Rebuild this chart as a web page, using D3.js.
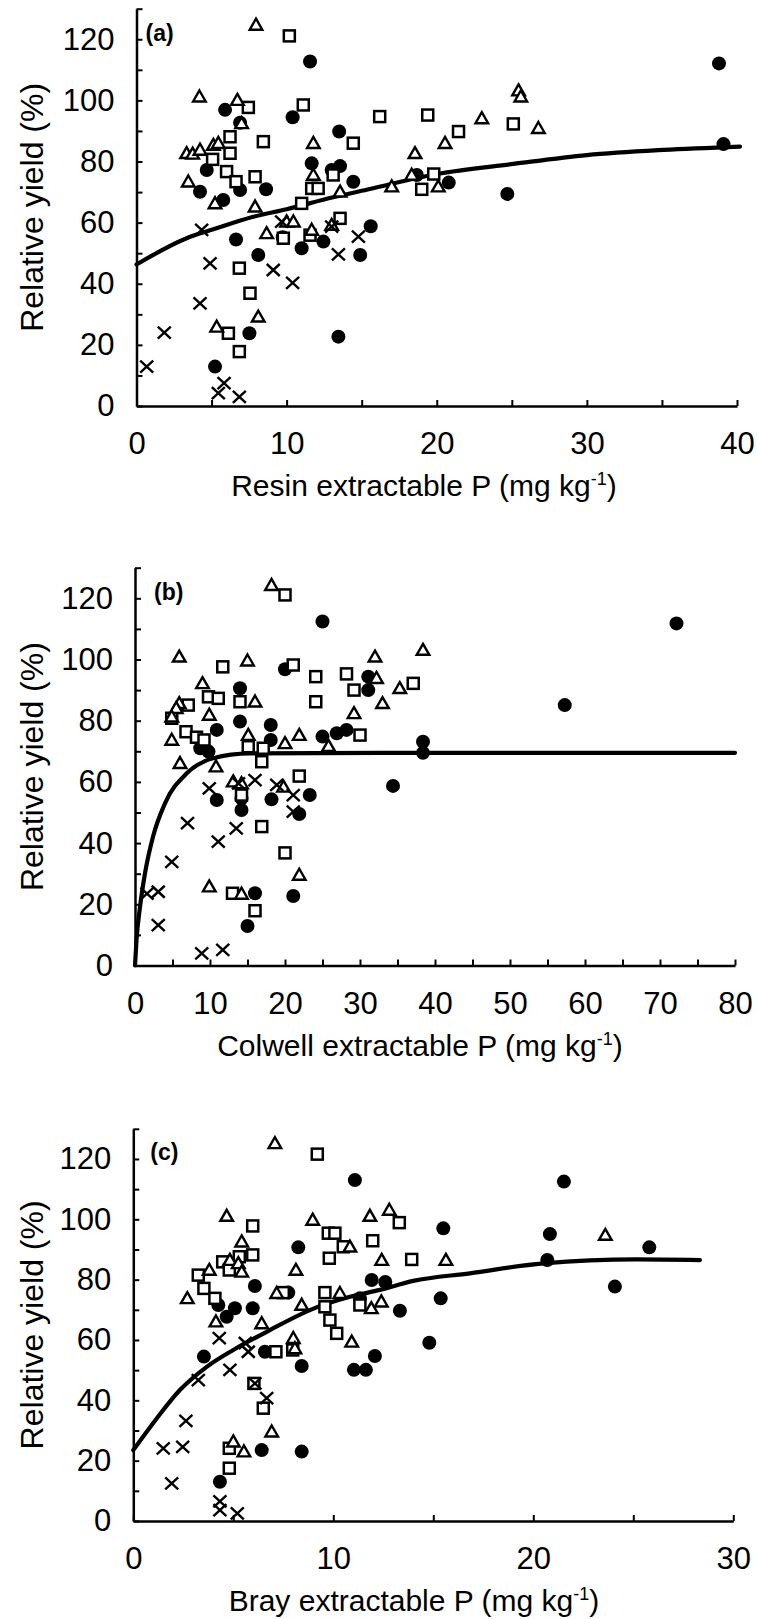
<!DOCTYPE html>
<html>
<head>
<meta charset="utf-8">
<script src="https://cdn.jsdelivr.net/npm/d3@7"></script>
<style>
  body { margin: 0; background: #fff; }
  text { font-family: "Liberation Sans", Arial, sans-serif; fill: #000; }
</style>
</head>
<body>
<svg width="758" height="1619"></svg>
<script>
// values: [P, relative yield %]
// panel (a) resin P
let resinCircle = [[11.56,112.7],[5.9,96.9],[10.4,94.5],[6.9,92.7],[13.5,89.8],[4.68,77.2],[11.67,79.4],[13.56,78.5],[13.0,77.2],[14.44,73.4],[4.23,70.1],[5.78,67.4],[6.9,70.7],[8.63,70.9],[6.63,54.5],[8.11,49.4],[9.74,55.2],[11.0,51.6],[12.45,53.8],[14.9,49.4],[15.6,58.8],[7.52,23.8],[13.45,22.7],[5.23,12.9],[38.8,112.1],[39.1,85.7],[24.7,69.4],[20.8,73.1],[18.67,75.6]];
let resinSquare = [[10.18,121.1],[11.11,98.5],[7.45,97.7],[8.45,86.5],[6.23,88.1],[14.44,86],[16.2,94.7],[6.23,82.7],[5.07,80.7],[6.0,76.7],[6.63,73.4],[7.9,75.0],[11.67,71.2],[12.1,71.2],[13.1,75.6],[11.0,66.3],[13.56,61.4],[9.78,54.9],[11.56,55.9],[6.85,45.1],[7.56,36.9],[6.12,23.8],[6.85,17.8],[19.4,95.2],[21.45,89.8],[25.1,92.3],[19.8,75.9],[19.0,70.9]];
let resinTriangle = [[7.96,124.7],[4.19,101.2],[6.72,100.1],[7.0,92.5],[11.78,86],[3.34,82.7],[3.74,82.5],[4.23,83.8],[5.12,85.4],[5.45,86],[3.45,73.4],[5.23,66.3],[7.9,65.2],[11.78,75.6],[13.56,70.1],[8.67,56.5],[10.0,60.3],[10.45,60.3],[11.67,57.6],[13.0,59.2],[5.34,25.9],[8.11,29.2],[25.45,103.2],[25.6,101.2],[23.0,94.1],[26.77,90.9],[20.55,86],[18.55,82.7],[18.33,75.6],[17.0,71.8],[20.1,71.8]];
let resinCross = [[4.34,57.6],[4.9,46.7],[9.11,44.5],[10.4,40.3],[9.67,60.3],[13.45,49.6],[14.78,55.4],[13.0,58.7],[4.23,33.6],[1.85,24.0],[0.68,12.9],[5.45,4.2],[5.83,7.5],[6.85,3.0]];
let resinCurve = [[0,46.3],[3.34,54.9],[5.12,57.8],[7.78,61.9],[10,64.4],[13.1,68.3],[15.55,71.0],[20,75.9],[25.1,79.2],[30,82.1],[35.1,83.8],[40.2,84.9]];

// panel (b) Colwell P
let colwellCircle = [[25.0,112.4],[20.0,96.8],[14.0,90.6],[31.1,94.4],[31.1,90.0],[10.9,77.0],[14.0,79.7],[18.1,78.6],[18.1,73.7],[8.7,71.0],[9.8,69.9],[25.0,74.8],[26.9,75.9],[28.2,77.0],[10.9,54.1],[14.2,54.6],[14.2,50.8],[18.2,54.3],[23.3,55.7],[21.9,49.5],[16.0,23.6],[15.0,12.9],[21.1,22.7],[72.2,111.8],[57.3,85.1],[38.4,73.1],[38.4,69.5],[34.4,58.7]];
let colwellSquare = [[20.0,121.1],[11.7,97.6],[21.1,98.2],[24.1,94.4],[28.2,95.3],[29.2,90.0],[7.1,85.1],[9.8,87.8],[11.1,87.3],[14.0,86.2],[24.1,86.2],[4.9,80.8],[6.8,76.4],[8.2,74.6],[9.2,73.7],[15.1,71.5],[17.1,71.0],[16.9,66.6],[30.0,75.3],[21.9,61.9],[14.2,55.7],[16.9,45.4],[20.0,36.8],[13.0,23.6],[16.0,17.9],[37.1,92.2]];
let colwellTriangle = [[18.2,124.3],[5.9,100.9],[15.0,99.6],[32.0,100.9],[9.0,92.2],[16.0,86.2],[5.9,85.7],[5.5,84.1],[4.9,81.3],[9.9,81.9],[29.2,82.4],[33.0,85.7],[4.9,73.7],[6.0,66.1],[15.1,75.3],[21.9,75.3],[20.0,72.6],[10.8,65.0],[25.8,71.7],[13.1,60.1],[14.2,59.5],[19.8,58.4],[21.9,29.6],[9.9,25.8],[14.2,23.4],[38.4,103.1],[32.2,93.9],[35.3,90.6]];
let colwellCross = [[9.9,57.9],[13.8,59.5],[16.0,60.6],[18.9,59.0],[21.1,55.7],[21.1,50.3],[7.0,46.5],[13.5,44.8],[11.1,40.5],[4.9,33.9],[3.1,24.1],[1.6,23.5],[3.1,13.2],[8.9,4.0],[11.7,5.1]];
let colwellCurve = [[0,0],[0.2,8.3],[0.67,19.2],[1.33,30.1],[2.4,42.1],[4.0,53.0],[6.9,62.8],[10.4,67.7],[15.3,69.3],[32.7,69.5],[80,69.5]];

// panel (c) Bray P
let brayCircle = [[11.08,113.0],[8.25,90.7],[6.08,77.9],[4.25,71.6],[5.08,70.5],[5.97,70.5],[4.67,67.7],[7.75,75.7],[11.92,79.9],[12.6,79.2],[11.33,73.8],[3.53,54.5],[6.58,56.1],[8.42,51.4],[11.03,50.1],[11.63,50.1],[12.08,54.7],[6.42,23.5],[8.42,23.0],[4.33,13.0],[21.53,112.5],[15.5,97.0],[20.83,95.1],[25.8,90.7],[20.7,86.5],[24.08,77.7],[15.37,73.8],[13.33,69.7],[14.8,59.1]];
let braySquare = [[9.2,121.6],[5.97,97.8],[9.75,95.4],[10.08,95.4],[10.5,90.9],[11.97,92.9],[3.25,81.5],[4.47,85.9],[4.8,83.2],[5.3,87.6],[5.97,88.2],[9.8,87.1],[3.53,77.1],[4.08,73.8],[9.58,75.7],[9.58,71.0],[11.33,71.6],[9.83,66.6],[10.17,62.2],[7.13,56.1],[7.97,56.7],[6.03,45.6],[6.5,37.4],[4.8,24.1],[4.8,17.5],[13.3,98.9],[13.92,86.7],[7.5,75.7]];
let brayTriangle = [[7.08,125.2],[4.67,101.1],[8.97,99.8],[11.83,101.1],[5.42,92.6],[10.83,90.9],[3.8,83.2],[4.83,86.5],[5.25,85.4],[5.42,82.6],[8.13,83.2],[2.7,73.8],[7.17,75.5],[8.42,71.6],[10.33,75.5],[11.9,70.5],[12.4,72.7],[4.13,66.1],[6.42,65.5],[8.0,60.6],[8.08,57.2],[10.92,59.4],[5.0,26.3],[5.53,23.0],[6.92,29.6],[12.8,103.1],[12.42,86.5],[15.63,86.5],[23.6,94.8]];
let brayCross = [[4.3,60.6],[5.75,56.1],[4.83,50.1],[3.25,46.7],[6.08,45.6],[6.67,40.7],[5.6,59.0],[2.63,33.2],[1.5,24.1],[2.47,24.6],[1.92,12.5],[4.33,3.6],[4.33,6.5],[5.2,2.5]];
let brayCurve = [[0,23.5],[1.17,34],[2.33,43.4],[3.67,51.1],[5.0,56.7],[6.67,62.7],[8.83,69.9],[10.83,74.3],[12.33,76.6],[14.0,79.6],[16.83,82.1],[20.5,85.4],[25.17,86.7],[28.33,86.5]];

let yTickValues = [0, 10, 20, 30, 40, 50, 60, 70, 80, 90, 100, 110, 120, 130];
let yLabelValues = [0, 20, 40, 60, 80, 100, 120];

let svg = d3.select("svg");

// layout of the three stacked panels
let panels = [
  { label: "(a)", name: "Resin", xMax: 40, xStep: 5, xLabelStep: 10,
    left: 136.5, right: 737, bottom: 406, top: 8.7, labelDx: 9, titleX: 424,
    circle: resinCircle, square: resinSquare, triangle: resinTriangle, cross: resinCross, curve: resinCurve },
  { label: "(b)", name: "Colwell", xMax: 80, xStep: 5, xLabelStep: 10,
    left: 135, right: 735, bottom: 965.5, top: 567.7, labelDx: 19, titleX: 420,
    circle: colwellCircle, square: colwellSquare, triangle: colwellTriangle, cross: colwellCross, curve: colwellCurve },
  { label: "(c)", name: "Bray", xMax: 30, xStep: 5, xLabelStep: 10,
    left: 133.3, right: 733.3, bottom: 1521, top: 1128.8, labelDx: 17, titleX: 414,
    circle: brayCircle, square: braySquare, triangle: brayTriangle, cross: brayCross, curve: brayCurve }
];

panels.forEach(function(p) {
  let x = d3.scaleLinear().domain([0, p.xMax]).range([p.left, p.right]);
  let y = d3.scaleLinear().domain([0, 130]).range([p.bottom, p.top]);
  let g = svg.append("g");

  //fitted curve under the markers
  let line = d3.line()
    .x(function(d) { return x(d[0]); })
    .y(function(d) { return y(d[1]); })
    .curve(d3.curveMonotoneX);
  g.append("path")
    .datum(p.curve)
    .attr("d", line)
    .attr("fill", "none")
    .attr("stroke", "#000")
    .attr("stroke-width", 4.2)
    .attr("stroke-linecap", "round");

  //circles
  g.selectAll(".dot")
    .data(p.circle)
    .enter()
    .append("circle")
    .attr("class", "dot")
    .attr("cx", function(d) { return x(d[0]); })
    .attr("cy", function(d) { return y(d[1]); })
    .attr("r", 7)
    .attr("fill", "#000");

  //squares
  g.selectAll(".sq")
    .data(p.square)
    .enter()
    .append("rect")
    .attr("class", "sq")
    .attr("x", function(d) { return x(d[0]) - 5.5; })
    .attr("y", function(d) { return y(d[1]) - 5.5; })
    .attr("width", 11)
    .attr("height", 11)
    .attr("fill", "#fff")
    .attr("stroke", "#000")
    .attr("stroke-width", 2.5);

  //triangles
  g.selectAll(".tri")
    .data(p.triangle)
    .enter()
    .append("path")
    .attr("class", "tri")
    .attr("d", "M0,-6.2L6.3,4.8L-6.3,4.8Z")
    .attr("transform", function(d) { return "translate(" + x(d[0]) + "," + y(d[1]) + ")"; })
    .attr("fill", "#fff")
    .attr("stroke", "#000")
    .attr("stroke-width", 2.4);

  //crosses
  g.selectAll(".cross")
    .data(p.cross)
    .enter()
    .append("path")
    .attr("class", "cross")
    .attr("d", "M-6.5,-6L6.5,6M-6.5,6L6.5,-6")
    .attr("transform", function(d) { return "translate(" + x(d[0]) + "," + y(d[1]) + ")"; })
    .attr("fill", "none")
    .attr("stroke", "#000")
    .attr("stroke-width", 2.4);

  //axes, ticks pointing inward
  let yAxis = d3.axisLeft(y)
    .tickValues(yTickValues)
    .tickSizeInner(-6)
    .tickSizeOuter(0)
    .tickPadding(22)
    .tickFormat(function(d) { return yLabelValues.indexOf(d) >= 0 ? d : ""; });
  let xAxis = d3.axisBottom(x)
    .tickValues(d3.range(0, p.xMax + 0.1, p.xStep))
    .tickSizeInner(-6)
    .tickSizeOuter(0)
    .tickPadding(26)
    .tickFormat(function(d) { return d % p.xLabelStep === 0 ? d : ""; });

  let ya = g.append("g")
    .attr("transform", "translate(" + p.left + ",0)")
    .call(yAxis);
  let xa = g.append("g")
    .attr("transform", "translate(0," + p.bottom + ")")
    .call(xAxis);

  [ya, xa].forEach(function(a) {
    a.select(".domain").attr("stroke-width", 2.5);
    a.selectAll(".tick line").attr("stroke-width", 2);
    a.selectAll(".tick text")
      .attr("font-size", 31)
      .attr("font-family", "Liberation Sans, Arial, sans-serif");
  });

  //panel letter
  g.append("text")
    .attr("x", p.left + p.labelDx)
    .attr("y", y(119.5))
    .attr("font-size", 23)
    .attr("font-weight", "bold")
    .text(p.label);

  //x title with superscript
  let t = g.append("text")
    .attr("x", p.titleX)
    .attr("y", p.bottom + 90)
    .attr("text-anchor", "middle")
    .attr("font-size", 30);
  t.append("tspan").text(p.name + " extractable P (mg kg");
  t.append("tspan").attr("dy", -11).attr("font-size", 18).text("-1");
  t.append("tspan").attr("dy", 11).text(")");

  //y title
  g.append("text")
    .attr("transform", "translate(43," + (p.bottom + p.top) / 2 + ") rotate(-90)")
    .attr("text-anchor", "middle")
    .attr("font-size", 32)
    .text("Relative yield (%)");
});
</script>
</body>
</html>
